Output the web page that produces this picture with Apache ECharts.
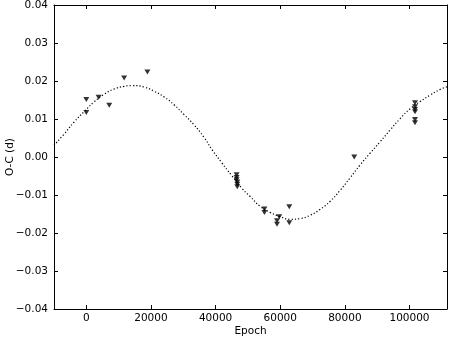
<!DOCTYPE html>
<html>
<head>
<meta charset="utf-8">
<script src="https://cdn.jsdelivr.net/npm/echarts@6/dist/echarts.min.js"></script>
<style>html,body{margin:0;padding:0;background:#fff;}#c{width:453px;height:340px;}</style>
</head>
<body>
<div id="c"></div>
<script>
// Observed O-C points
var obsEpoch = [0, 0, 3800, 7100, 11700, 18900,
  46500, 46500, 46500, 46700, 46700, 46700,
  55100, 55100, 59000, 59000, 59700, 62800, 62800,
  82900,
  101700, 101700, 101700, 101700, 101700, 101700];
var obsOC = [0.0151, 0.0117, 0.0157, 0.0136, 0.0208, 0.0224,
  -0.0047, -0.0054, -0.0060, -0.0066, -0.0072, -0.0078,
  -0.0137, -0.0146, -0.0168, -0.0177, -0.0157, -0.0131, -0.0173,
  0.0000,
  0.0143, 0.0132, 0.0125, 0.0119, 0.0099, 0.0090];
// Fitted curve points
var fitEpoch = [-10000, -6900, -3800, -700, 2400, 5500, 8600, 11700, 14200, 17900, 21000, 24100, 27200, 30200, 33300, 36400, 39000, 42000, 45000, 48100, 50700, 53800, 56900, 60000, 63100, 66200, 69300, 72300, 75400, 78500, 81600, 84700, 87800, 90900, 94000, 97100, 100200, 103300, 106400, 109500, 111600];
var fitOC = [0.0031, 0.0060, 0.0092, 0.0119, 0.0145, 0.0165, 0.0179, 0.0186, 0.0188, 0.0184, 0.0173, 0.0158, 0.0137, 0.0112, 0.0085, 0.0052, 0.0018, -0.0016, -0.0049, -0.0082, -0.0104, -0.0130, -0.0146, -0.0157, -0.0164, -0.0162, -0.0153, -0.0138, -0.0117, -0.0088, -0.0055, -0.0021, 0.0010, 0.0040, 0.0071, 0.0101, 0.0127, 0.0146, 0.0163, 0.0178, 0.0185];
// Tick values
var xTicks = [0, 20000, 40000, 60000, 80000, 100000];
var yTicks = [-0.04, -0.03, -0.02, -0.01, 0.00, 0.01, 0.02, 0.03, 0.04];
var xRange = [-10000, 111600];
var yRange = [-0.04, 0.04];

var FONT = 'DejaVu Sans';
var FS = 10.5;
function yFmt(v) { var s = Number(v).toFixed(2); if (s === '-0.00') s = '0.00'; return s.replace('-', '\u2212'); }

var chart = echarts.init(document.getElementById('c'), null, {renderer: 'canvas'});
var lineSty = {color: '#000', width: 1};
chart.setOption({
  animation: false,
  backgroundColor: '#fff',
  grid: {left: 54, right: 6, top: 5, bottom: 31, containLabel: false, outerBoundsMode: 'none'},
  xAxis: [{
    type: 'value', min: xRange[0], max: xRange[1], position: 'bottom',
    name: 'Epoch', nameLocation: 'middle', nameGap: 17, nameMoveOverlap: false,
    nameTextStyle: {color: '#000', fontFamily: FONT, fontSize: FS},
    axisLine: {show: true, onZero: false, lineStyle: lineSty},
    axisTick: {show: true, inside: true, length: 4, lineStyle: lineSty, customValues: xTicks},
    axisLabel: {show: true, margin: 4, color: '#000', fontFamily: FONT, fontSize: FS, customValues: xTicks, formatter: function (v) { return String(v); }},
    splitLine: {show: false}
  }, {
    type: 'value', min: xRange[0], max: xRange[1], position: 'top',
    axisLine: {show: true, onZero: false, lineStyle: lineSty},
    axisTick: {show: true, inside: true, length: 4, lineStyle: lineSty, customValues: xTicks},
    axisLabel: {show: false},
    splitLine: {show: false}
  }],
  yAxis: [{
    type: 'value', min: yRange[0], max: yRange[1], position: 'left',
    name: 'O-C (d)', nameLocation: 'middle', nameGap: 38, nameMoveOverlap: false,
    nameTextStyle: {color: '#000', fontFamily: FONT, fontSize: FS},
    axisLine: {show: true, onZero: false, lineStyle: lineSty},
    axisTick: {show: true, inside: true, length: 4, lineStyle: lineSty, customValues: yTicks},
    axisLabel: {show: true, margin: 6, color: '#000', fontFamily: FONT, fontSize: FS, customValues: yTicks, formatter: yFmt},
    splitLine: {show: false}
  }, {
    type: 'value', min: yRange[0], max: yRange[1], position: 'right',
    axisLine: {show: true, onZero: false, lineStyle: lineSty},
    axisTick: {show: true, inside: true, length: 4, lineStyle: lineSty, customValues: yTicks},
    axisLabel: {show: false},
    splitLine: {show: false}
  }],
  series: [{
    type: 'line', xAxisIndex: 0, yAxisIndex: 0,
    data: fitEpoch.map(function (x, i) { return [x, fitOC[i]]; }),
    showSymbol: false, smooth: 0.5,
    lineStyle: {color: '#000', width: 1.2, type: [1.2, 2.1], cap: 'butt'},
    z: 2
  }, {
    type: 'scatter', xAxisIndex: 0, yAxisIndex: 0,
    data: obsEpoch.map(function (x, i) { return [x, obsOC[i]]; }),
    symbol: 'triangle', symbolRotate: 180, symbolSize: [6, 5],
    itemStyle: {color: '#000'},
    z: 3
  }]
});
</script>
</body>
</html>
